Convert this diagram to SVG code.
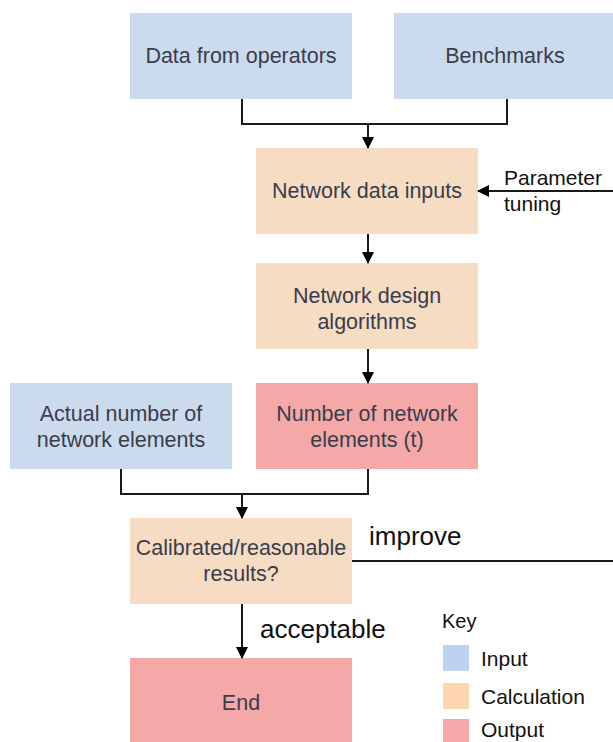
<svg xmlns="http://www.w3.org/2000/svg" width="613" height="742" viewBox="0 0 613 742">
  <style>
    .input { fill: #ccdaed; }
    .calc { fill: #f5dcc3; }
    .output { fill: #f4a9a8; }
    .node-text { font-family: "Liberation Sans", Arial, sans-serif; font-size: 21.5px; fill: #3a3d4c; text-anchor: middle; }
    .label { font-family: "Liberation Sans", Arial, sans-serif; fill: #111; }
    .wire { fill: none; stroke: #1a1a1a; stroke-width: 2; }
  </style>
  <defs>
    <marker id="arrow" markerWidth="12" markerHeight="12" refX="11" refY="6" orient="auto" markerUnits="userSpaceOnUse">
      <path d="M0,0 L12,6 L0,12 Z" fill="#000"/>
    </marker>
  </defs>

  <rect width="613" height="742" fill="#fff"/>

  <g id="data-from-operators">
    <rect class="input" x="130" y="13" width="222" height="86"/>
    <text class="node-text" x="241" y="63">Data from operators</text>
  </g>
  <g id="benchmarks">
    <rect class="input" x="394" y="13" width="222" height="86"/>
    <text class="node-text" x="505" y="63">Benchmarks</text>
  </g>
  <g id="network-data-inputs">
    <rect class="calc" x="256" y="148" width="222" height="86"/>
    <text class="node-text" x="367" y="198">Network data inputs</text>
  </g>
  <g id="network-design-algorithms">
    <rect class="calc" x="256" y="263" width="222" height="86"/>
    <text class="node-text" x="367" y="303">Network design</text>
    <text class="node-text" x="367" y="329">algorithms</text>
  </g>
  <g id="actual-number">
    <rect class="input" x="10" y="383" width="222" height="86"/>
    <text class="node-text" x="121" y="421">Actual number of</text>
    <text class="node-text" x="121" y="447">network elements</text>
  </g>
  <g id="number-of-elements">
    <rect class="output" x="256" y="383" width="222" height="86"/>
    <text class="node-text" x="367" y="421">Number of network</text>
    <text class="node-text" x="367" y="447">elements (t)</text>
  </g>
  <g id="calibrated">
    <rect class="calc" x="130" y="518" width="222" height="86"/>
    <text class="node-text" x="241" y="555">Calibrated/reasonable</text>
    <text class="node-text" x="241" y="581">results?</text>
  </g>
  <g id="end">
    <rect class="output" x="130" y="658" width="222" height="90"/>
    <text class="node-text" x="241" y="710">End</text>
  </g>

  <g id="connectors">
    <path class="wire" d="M242,99 V124 H507 V99"/>
    <path class="wire" d="M368,124 V148" marker-end="url(#arrow)"/>
    <path class="wire" d="M613,191 H478" marker-end="url(#arrow)"/>
    <path class="wire" d="M368,234 V263" marker-end="url(#arrow)"/>
    <path class="wire" d="M368,349 V383" marker-end="url(#arrow)"/>
    <path class="wire" d="M121,469 V494 H368 V469"/>
    <path class="wire" d="M242,494 V518" marker-end="url(#arrow)"/>
    <path class="wire" d="M352,561 H613"/>
    <path class="wire" d="M242,604 V658" marker-end="url(#arrow)"/>
    <text class="label" x="504" y="185" font-size="21">Parameter</text>
    <text class="label" x="504" y="211" font-size="21">tuning</text>
    <text class="label" x="369" y="545" font-size="26">improve</text>
    <text class="label" x="260" y="638" font-size="26">acceptable</text>
  </g>

  <g id="key">
    <text class="label" x="442" y="628" font-size="20">Key</text>
    <rect x="443" y="645" width="26" height="26" fill="#bcd2ee"/>
    <text class="label" x="481" y="666" font-size="21">Input</text>
    <rect x="443" y="683" width="26" height="26" fill="#fdd5ae"/>
    <text class="label" x="481" y="704" font-size="21">Calculation</text>
    <rect x="443" y="719" width="26" height="26" fill="#f4a9a8"/>
    <text class="label" x="481" y="737" font-size="21">Output</text>
  </g>
</svg>
